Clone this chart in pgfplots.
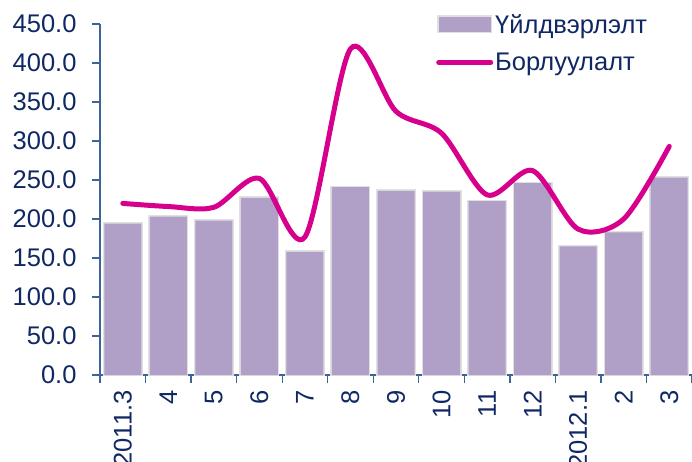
\documentclass[border=0pt]{standalone}
\usepackage{fontspec}
\setmainfont{Liberation Sans}
\usepackage{pgfplots}
\pgfplotsset{compat=1.18}
\definecolor{barc}{RGB}{176,160,200}
\definecolor{linec}{RGB}{214,0,140}
\definecolor{axc}{RGB}{60,100,150}
\definecolor{txt}{RGB}{15,40,100}
\begin{document}
\begin{tikzpicture}
\path[use as bounding box] (-100pt,-86pt) rectangle (592pt,375pt);
\begin{axis}[
  at={(0pt,0pt)}, anchor=south west,
  scale only axis, width=592pt, height=351pt,
  xmin=-0.5, xmax=12.5, ymin=0, ymax=450,
  axis lines=left, axis line style={-, draw=axc, line width=1.3pt},
  every tick/.style={draw=axc, line width=1.3pt},
  tick align=outside, tick pos=left,
  major tick length=8pt,
  ytick={0,50,...,450},
  xtick={-0.5,0.5,...,12.5},
  x tick label as interval,
  xticklabels={2011.3,4,5,6,7,8,9,10,11,12,2012.1,2,3},
  tick label style={font=\fontsize{25.5}{30}\selectfont, text=txt},
  x tick label style={rotate=90, anchor=east},
  xticklabel shift=4pt,
  yticklabel shift=12pt,
  /pgf/number format/assume math mode=true,
  y tick label style={/pgf/number format/.cd, fixed, fixed zerofill, precision=1},
  legend style={at={(rel axis cs:0.5676,1.034)}, anchor=north west, draw=none, fill=none,
    font=\fontsize{25.5}{30}\selectfont, text=txt, inner sep=0pt, row sep=14pt,
    nodes={inner xsep=2pt, inner ysep=2pt}},
  legend cell align=left,
]
\addplot[ybar, bar width=37pt, fill=barc, draw=none,
  preaction={draw=black!12, line width=3pt},
  legend image code/.code={\fill[barc] (0pt,-7.5pt) rectangle (52pt,7.5pt);}]
  coordinates {(0,194) (1,203) (2,198) (3,227) (4,158) (5,241) (6,236) (7,235) (8,223) (9,246) (10,165) (11,183) (12,253)};
\addlegendentry{Үйлдвэрлэлт}
\addplot[linec, line width=5pt, line cap=round, smooth, tension=0.5, mark=none,
  legend image code/.code={\draw[linec, line width=5pt, line cap=round] (0pt,0pt) -- (52pt,0pt);}]
  coordinates {(0,220) (1,216) (2,215) (3,252) (4,177) (5,418) (6,338) (7,310) (8,231) (9,262) (10,187) (11,200) (12,293)};
\addlegendentry{Борлуулалт}
\end{axis}
\end{tikzpicture}
\end{document}
